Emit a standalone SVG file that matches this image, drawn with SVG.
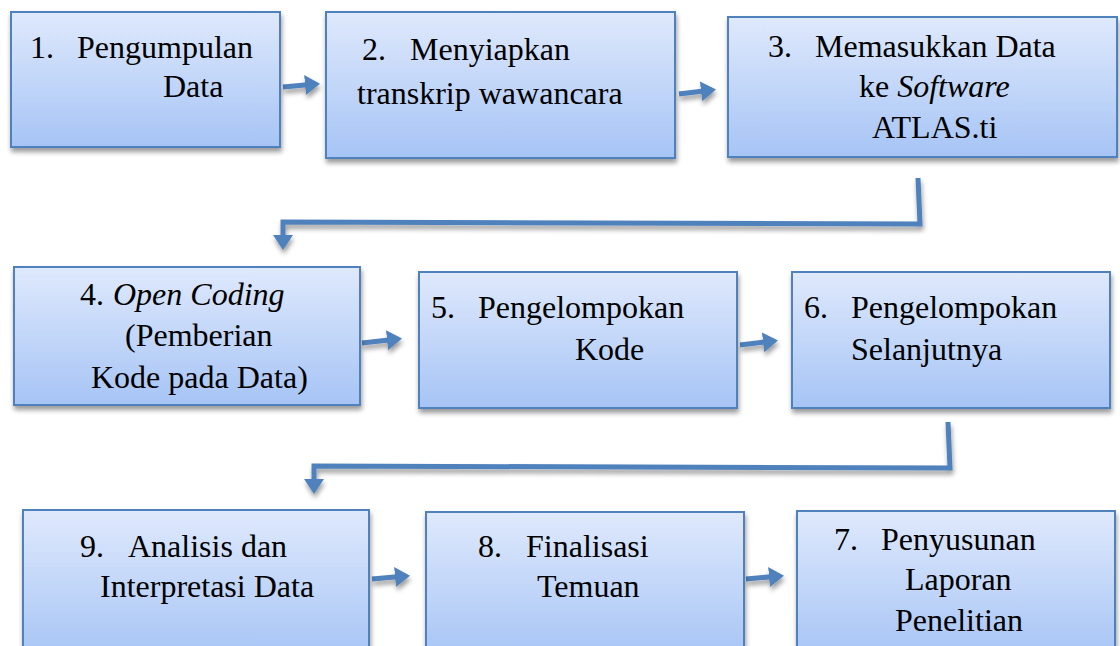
<svg xmlns="http://www.w3.org/2000/svg" width="1120" height="646" viewBox="0 0 1120 646">
<defs>
<linearGradient id="g" x1="0" y1="0" x2="0" y2="1">
<stop offset="0" stop-color="#dfe9fc"/>
<stop offset="1" stop-color="#a6c4f5"/>
</linearGradient>
<filter id="sh" x="-5%" y="-5%" width="115%" height="120%">
<feGaussianBlur in="SourceAlpha" stdDeviation="2.5"/>
<feOffset dx="1" dy="4"/>
<feComponentTransfer><feFuncA type="linear" slope="0.4"/></feComponentTransfer>
<feMerge><feMergeNode/><feMergeNode in="SourceGraphic"/></feMerge>
</filter>
<marker id="ah" markerWidth="4" markerHeight="4" refX="2.2" refY="2" orient="auto" markerUnits="strokeWidth">
<path d="M0,0 L3,2 L0,4 z" fill="#4f81bd"/>
</marker>
</defs>
<style>
.box{fill:url(#g);stroke:#4f81bd;stroke-width:2;filter:url(#sh)}
.it{font-style:italic}
.c{fill:none;stroke:#4f81bd;stroke-width:5}
</style>
<rect width="1120" height="646" fill="#fff"/>
<g id="connectors" filter="url(#sh)">
<path class="c" d="M283,87 L316,84" marker-end="url(#ah)"/>
<path class="c" d="M679,94 L712,90" marker-end="url(#ah)"/>
<path class="c" d="M918,178 L920,224 L283,222 L283,246" marker-end="url(#ah)"/>
<path class="c" d="M362,343 L398,339" marker-end="url(#ah)"/>
<path class="c" d="M740,345 L774,341" marker-end="url(#ah)"/>
<path class="c" d="M948,422 L950,468 L314,466 L314,490" marker-end="url(#ah)"/>
<path class="c" d="M372,579 L406,576" marker-end="url(#ah)"/>
<path class="c" d="M746,579 L780,576" marker-end="url(#ah)"/>
</g>
<g id="nodes" font-family="Liberation Serif, Times New Roman, serif" font-size="32" fill="#000">
<g id="n1"><rect class="box" x="11" y="12" width="269" height="135"/>
<text x="30" y="58">1.</text><text x="77" y="58">Pengumpulan</text><text x="163" y="97">Data</text></g>
<g id="n2"><rect class="box" x="326" y="12" width="349" height="146"/>
<text x="362" y="60">2.</text><text x="410" y="60">Menyiapkan</text><text x="357" y="104">transkrip wawancara</text></g>
<g id="n3"><rect class="box" x="728" y="17" width="389" height="140"/>
<text x="768" y="57">3.</text><text x="815" y="57">Memasukkan Data</text><text x="859" y="97">ke <tspan class="it">Software</tspan></text><text x="872" y="138">ATLAS.ti</text></g>
<g id="n4"><rect class="box" x="14" y="267" width="346" height="138"/>
<text x="80" y="305">4.</text><text x="113" y="305" class="it">Open Coding</text><text x="125" y="346">(Pemberian</text><text x="91" y="388">Kode pada Data)</text></g>
<g id="n5"><rect class="box" x="419" y="272" width="318" height="136"/>
<text x="431" y="318">5.</text><text x="478" y="318">Pengelompokan</text><text x="575" y="360">Kode</text></g>
<g id="n6"><rect class="box" x="792" y="272" width="318" height="136"/>
<text x="804" y="318">6.</text><text x="851" y="318">Pengelompokan</text><text x="851" y="360">Selanjutnya</text></g>
<g id="n9"><rect class="box" x="23" y="510" width="346" height="150"/>
<text x="80" y="557">9.</text><text x="128" y="557">Analisis dan</text><text x="100" y="597">Interpretasi Data</text></g>
<g id="n8"><rect class="box" x="426" y="512" width="318" height="148"/>
<text x="478" y="557">8.</text><text x="526" y="557">Finalisasi</text><text x="537" y="597">Temuan</text></g>
<g id="n7"><rect class="box" x="797" y="511" width="318" height="149"/>
<text x="834" y="550">7.</text><text x="881" y="550">Penyusunan</text><text x="905" y="590">Laporan</text><text x="895" y="631">Penelitian</text></g>
</g>
</svg>
